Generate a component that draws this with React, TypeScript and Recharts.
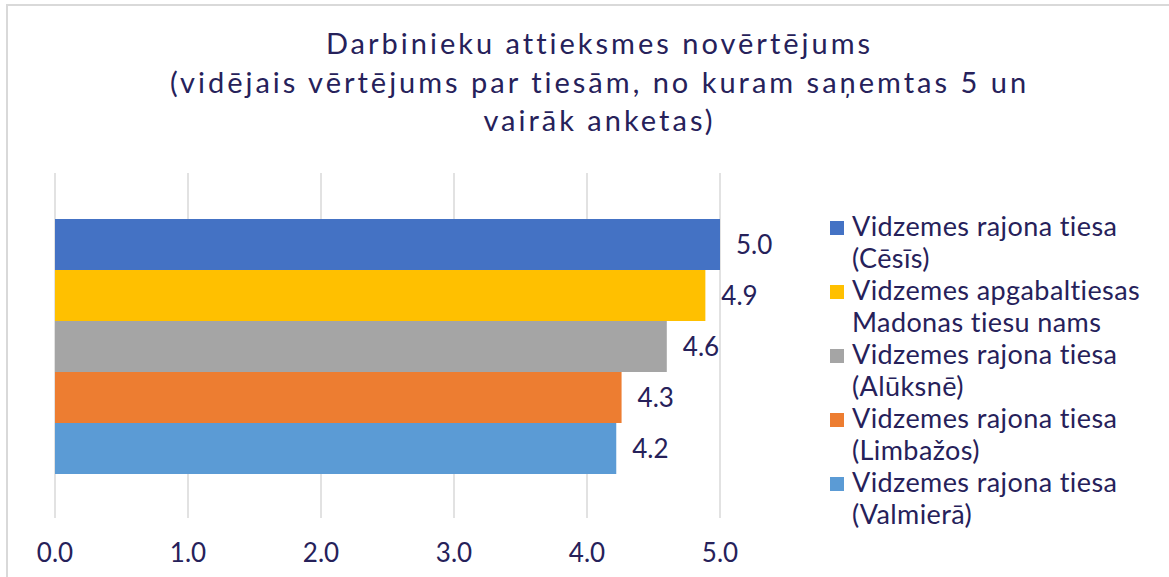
import React from 'react';
import { BarChart, Bar, XAxis, YAxis, CartesianGrid, LabelList } from 'recharts';

// Data
const courtNames = [
    'Vidzemes rajona tiesa (Cēsīs)',
    'Vidzemes apgabaltiesas Madonas tiesu nams',
    'Vidzemes rajona tiesa (Alūksnē)',
    'Vidzemes rajona tiesa (Limbažos)',
    'Vidzemes rajona tiesa (Valmierā)',
];
const courtScores = [5.0, 4.89, 4.6, 4.26, 4.22];
const xTicks = [0, 1, 2, 3, 4, 5];
const barColors = ['#4472C4', '#FFC000', '#A5A5A5', '#ED7D31', '#5B9BD5'];

const titleLines = [
    'Darbinieku attieksmes novērtējums',
    '(vidējais vērtējums par tiesām, no kuram saņemtas 5 un',
    'vairāk anketas)',
];

const TEXT = '#26215a';
const FONT = 'Lato, "Open Sans", sans-serif';

// one category row, one key per court
const row: Record<string, string | number> = { group: 'Vērtējums' };
courtNames.forEach((_, i) => {
    row['c' + i] = courtScores[i];
});
const chartData = [row];

export default function App() {
    return (
        <div
            style={{
                position: 'fixed',
                left: 0,
                top: 0,
                width: 1169,
                height: 577,
                background: '#fff',
                fontFamily: FONT,
                overflow: 'hidden',
            }}
        >
            {/* frame of the chart area */}
            <div
                style={{
                    position: 'absolute',
                    left: 6,
                    top: 4,
                    width: 1200,
                    height: 600,
                    borderLeft: '2px solid #d9d9d9',
                    borderTop: '2px solid #d9d9d9',
                }}
            />
            <div
                style={{
                    position: 'absolute',
                    left: 27,
                    top: 24,
                    width: 1145,
                    textAlign: 'center',
                    fontSize: 29,
                    letterSpacing: 3,
                    lineHeight: '38.5px',
                    color: TEXT,
                }}
            >
                {titleLines.map((t) => (
                    <div key={t}>{t}</div>
                ))}
            </div>

            <div style={{ position: 'absolute', left: 0, top: 0 }}>
                <BarChart
                    width={1169}
                    height={577}
                    data={chartData}
                    layout="vertical"
                    margin={{ top: 173, right: 449, left: 55, bottom: 0 }}
                    barCategoryGap="13.3%"
                    barGap={0}
                >
                    <CartesianGrid horizontal={false} stroke="#d9d9d9" strokeWidth={1.5} />
                    <XAxis
                        type="number"
                        domain={[0, 5]}
                        ticks={xTicks}
                        axisLine={false}
                        tickLine={false}
                        height={59}
                        tickMargin={20}
                        tickFormatter={(v: number) => v.toFixed(1)}
                        tick={{ fontSize: 26, fill: TEXT, fontFamily: FONT }}
                        interval={0}
                    />
                    <YAxis type="category" dataKey="group" hide />
                    {courtNames.map((name, i) => (
                        <Bar
                            key={name}
                            dataKey={'c' + i}
                            name={name}
                            fill={barColors[i]}
                            isAnimationActive={false}
                        >
                            <LabelList
                                dataKey={'c' + i}
                                position="right"
                                offset={16}
                                formatter={(v: any) => Number(v).toFixed(1)}
                                style={{ fontSize: 26, fill: TEXT, fontFamily: FONT }}
                            />
                        </Bar>
                    ))}
                </BarChart>
            </div>

            {/* legend */}
            <div style={{ position: 'absolute', left: 830, top: 210, width: 335 }}>
                {courtNames.map((name, i) => (
                    <div key={name} style={{ display: 'flex', alignItems: 'flex-start' }}>
                        <span
                            style={{
                                width: 14,
                                height: 14,
                                marginTop: 11,
                                background: barColors[i],
                                flex: 'none',
                            }}
                        />
                        <span
                            style={{
                                marginLeft: 8,
                                width: 310,
                                fontSize: 27,
                                letterSpacing: 0.4,
                                lineHeight: '32px',
                                color: TEXT,
                            }}
                        >
                            {name}
                        </span>
                    </div>
                ))}
            </div>
        </div>
    );
}
